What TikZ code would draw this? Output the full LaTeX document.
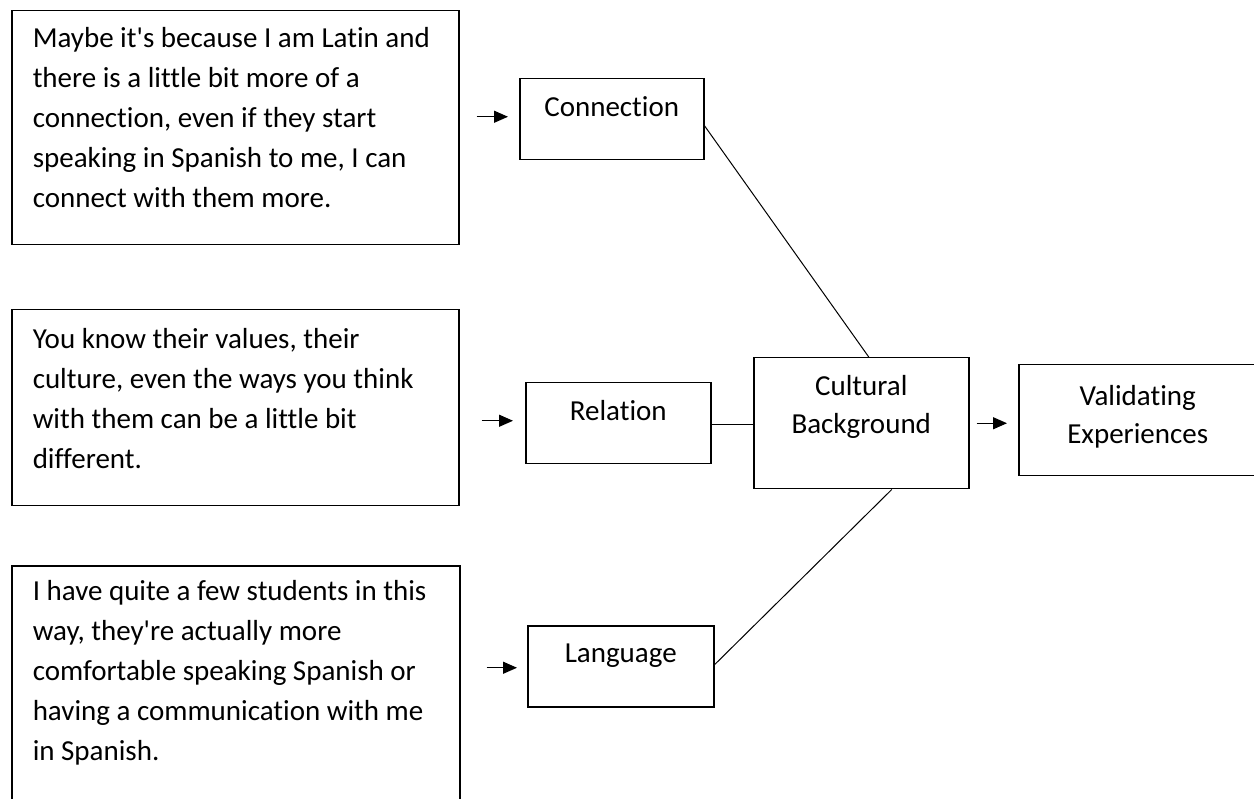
\documentclass[tikz,border=0pt]{standalone}
\usepackage{fontspec}
\setmainfont{Carlito}[Ligatures={NoCommon}]
\usetikzlibrary{arrows.meta}
\newcommand{\mybox}[5]{\parbox[c][#2][t]{#1}{#3\rule{0pt}{#4}#5}}
\newcommand{\ap}{\textquotesingle}
\begin{document}
\begin{tikzpicture}[x=1pt,y=-1pt,
  every node/.style={font=\fontsize{29pt}{40pt}\selectfont},
  qbox/.style={draw, line width=1.5pt, rectangle, anchor=north west, inner xsep=21pt, inner ysep=0pt},
  sbox/.style={draw, line width=1.5pt, rectangle, anchor=north west, inner sep=0pt},
  link/.style={line width=1pt},
  arr/.style={line width=1.3pt, -{Triangle[length=14pt,width=12pt]}}]
\useasboundingbox (0,0) rectangle (1254,799);
\clip (0,0) rectangle (1254,799);
\fill[white] (0,0) rectangle (1254,799);
% quote boxes
\node[qbox] (q1) at (11,10) {\mybox{405pt}{234pt}{\raggedright}{37pt}{Maybe it\ap s because I am Latin and\\there is a little bit more of a\\connection, even if they start\\speaking in Spanish to me, I can\\connect with them more.}};
\node[qbox] (q2) at (11,309) {\mybox{405pt}{196pt}{\raggedright}{39pt}{You know their values, their\\culture, even the ways you think\\with them can be a little bit\\different.}};
\node[qbox] (q3) at (11,565) {\mybox{406pt}{300pt}{\raggedright}{35pt}{I have quite a few students in this\\way, they\ap re actually more\\comfortable speaking Spanish or\\having a communication with me\\in Spanish.}};
% small boxes
\node[sbox] (c1) at (519,78) {\mybox{184pt}{81pt}{\centering}{38pt}{Connection}};
\node[sbox] (rel) at (525,382) {\mybox{185pt}{81pt}{\centering}{38pt}{Relation}};
\node[sbox] (lang) at (527,625) {\mybox{186pt}{81pt}{\centering}{37pt}{Language}};
\node[sbox] (cult) at (753,357) {\mybox{215pt}{131pt}{\centering\baselineskip=38pt}{38pt}{Cultural\\Background}};
\node[sbox] (val) at (1018,364) {\mybox{238pt}{111pt}{\centering\baselineskip=38pt}{41pt}{Validating\\Experiences}};
% arrows
\coordinate (a1end) at ([xshift=-11pt,yshift=2.5pt]c1.west);
\coordinate (a2end) at ([xshift=-12pt,yshift=2.5pt]rel.west);
\coordinate (a3end) at ([xshift=-10pt,yshift=-1.5pt]lang.west);
\draw[arr] ([xshift=17pt]q1.east |- a1end) -- (a1end);
\draw[arr] ([xshift=22pt]q2.east |- a2end) -- (a2end);
\draw[arr] ([xshift=26pt]q3.east |- a3end) -- (a3end);
\coordinate (a4end) at ([xshift=-11pt]val.west |- cult.east);
\draw[arr] ([xshift=7pt]cult.east) -- (a4end);
% links
\draw[link] ([yshift=-6.5pt]c1.east) -- ([xshift=7.5pt]cult.north);
\draw[link] ([yshift=-1.5pt]rel.east) -- ([yshift=-1.5pt]rel.east -| cult.west);
\draw[link] ([xshift=30.5pt]cult.south) -- ([yshift=1.5pt]lang.east);
\end{tikzpicture}
\end{document}
